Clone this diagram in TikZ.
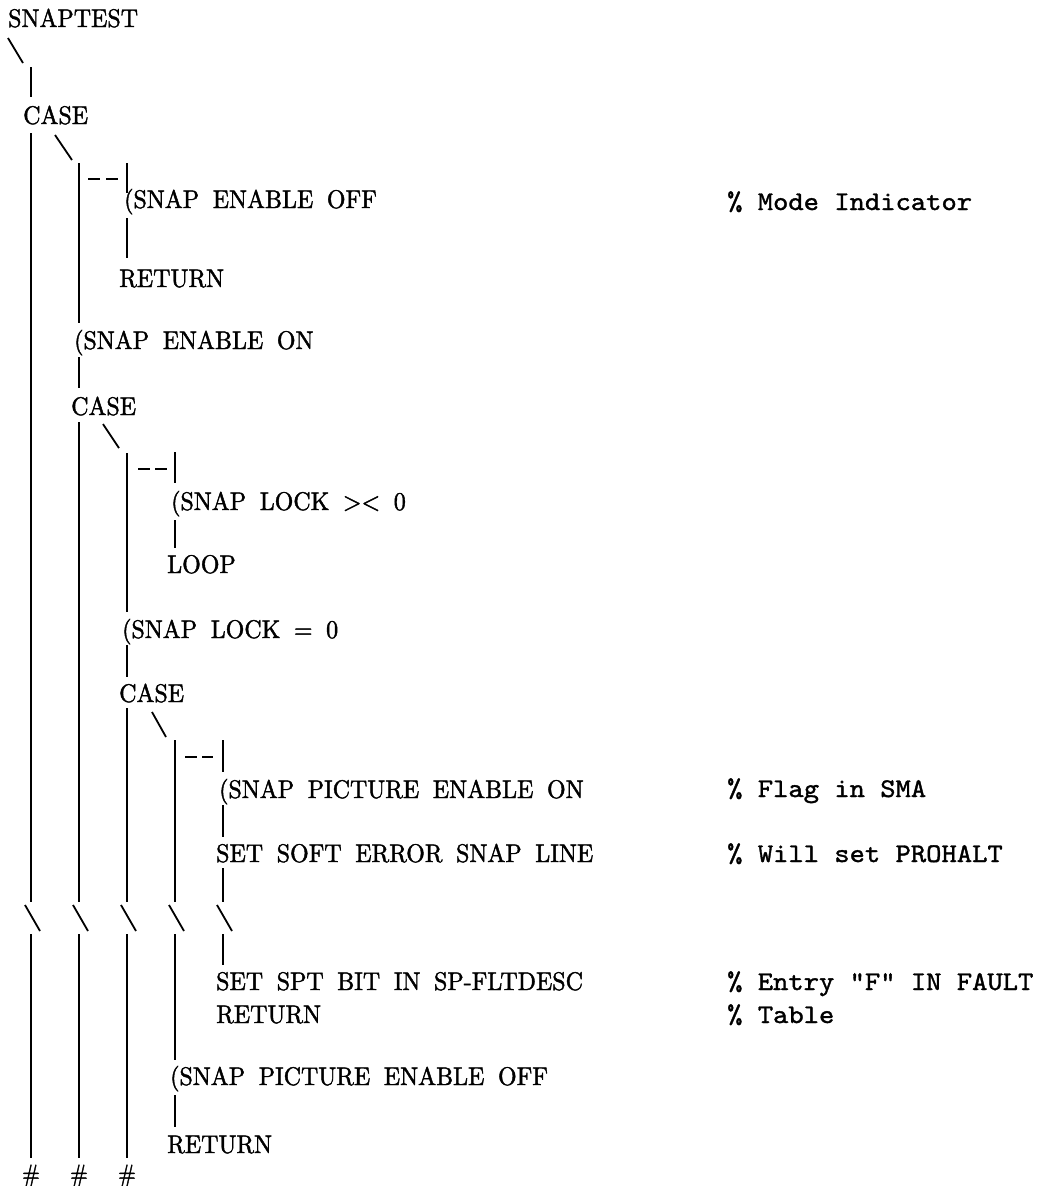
\documentclass[tikz,border=0pt]{standalone}
\usepackage{fontspec}
\font\mainfnt="[lmroman10-regular.otf]:extend=0.94;embolden=1.6" at 25.5pt
\fontdimen2\mainfnt=13.6pt
\font\hashfnt="[lmroman10-regular.otf]:extend=0.85;embolden=1.6" at 25pt
\font\cmtfnt="[lmmono10-regular.otf]:extend=1.08;embolden=1.3" at 27pt
\tikzset{
  ln/.style={line width=1.8pt},
  dsh/.style={line width=1.4pt},
  txt/.style={anchor=base west, inner sep=0pt, font=\mainfnt},
  cmt/.style={anchor=base west, inner sep=0pt, font=\cmtfnt},
  hsh/.style={anchor=base, inner sep=0pt, font=\hashfnt},
}
\begin{document}
\begin{tikzpicture}[x=1pt,y=-1pt]
\useasboundingbox (0,0) rectangle (1038,1186);
% columns: 31, 79, 127, 175, 223
% ---- texts
\node[txt] (snaptest) at (8,27) {SNAPTEST};
\node[txt] (case1) at (23,124) {CASE};
\node[txt] (enoff) at (124,208) {(SNAP ENABLE OFF};
\node[txt] (ret1) at (119,287) {RETURN};
\node[txt] (enon) at (74,349) {(SNAP ENABLE ON};
\node[txt] (case2) at (71,415) {CASE};
\node[txt] (locknz) at (171,510) {(SNAP LOCK >< 0};
\node[txt] (loop) at (167,573) {LOOP};
\node[txt] (lockz) at (122,638) {(SNAP LOCK = 0};
\node[txt] (case3) at (119,702) {CASE};
\node[txt] (picon) at (219,798) {(SNAP PICTURE ENABLE ON};
\node[txt] (softerr) at (216,862) {SET SOFT ERROR SNAP LINE};
\node[txt] (sptbit) at (216,990) {SET SPT BIT IN SP-FLTDESC};
\node[txt] (ret2) at (216,1023) {RETURN};
\node[txt] (picoff) at (170,1085) {(SNAP PICTURE ENABLE OFF};
\node[txt] (ret3) at (167,1153) {RETURN};
% ---- comments
\node[cmt] (c-mode) at (727,210) {\% Mode Indicator};
\node[cmt] (c-flag) at (727,797) {\% Flag in SMA};
\node[cmt] (c-will) at (727,862) {\% Will set PROHALT};
\node[cmt] (c-entry) at (727,990) {\% Entry "F" IN FAULT};
\node[cmt] (c-table) at (727,1023) {\% Table};
% ---- hashes
\node[hsh] (h1) at (31,1182) {\#};
\node[hsh] (h2) at (79,1182) {\#};
\node[hsh] (h3) at (127,1182) {\#};
% ---- lines
\draw[ln] (8,38) -- (23,63);
\draw[ln] (31,67) -- (31,97);
\draw[ln] (31,133) -- (31,902);
\draw[ln] (55,135) -- (72,160);
\draw[ln] (79,163) -- (79,323);
\draw[dsh] (88,179) -- (100,179) (106,179) -- (118,179);
\draw[ln] (127,163) -- (127,193);
\draw[ln] (127,218) -- (127,258);
\draw[ln] (79,357) -- (79,388);
\draw[ln] (79,422) -- (79,902);
\draw[ln] (103,424) -- (119,448);
\draw[ln] (127,453) -- (127,612);
\draw[dsh] (138,469) -- (150,469) (155,469) -- (167,469);
\draw[ln] (175,452) -- (175,483);
\draw[ln] (175,520) -- (175,548);
\draw[ln] (127,645) -- (127,677);
\draw[ln] (127,708) -- (127,902);
\draw[ln] (152,712) -- (166,737);
\draw[ln] (175,740) -- (175,902);
\draw[dsh] (185,757) -- (197,757) (202,757) -- (213,757);
\draw[ln] (223,740) -- (223,772);
\draw[ln] (223,805) -- (223,837);
\draw[ln] (223,868) -- (223,902);
\foreach \c in {31,79,127,175,223} {
  \draw[ln] (\c-6,905) -- (\c+9,931);
}
\draw[ln] (31,934) -- (31,1158);
\draw[ln] (79,934) -- (79,1158);
\draw[ln] (127,934) -- (127,1158);
\draw[ln] (175,934) -- (175,1060);
\draw[ln] (223,934) -- (223,965);
\draw[ln] (175,1095) -- (175,1127);
\end{tikzpicture}
\end{document}
